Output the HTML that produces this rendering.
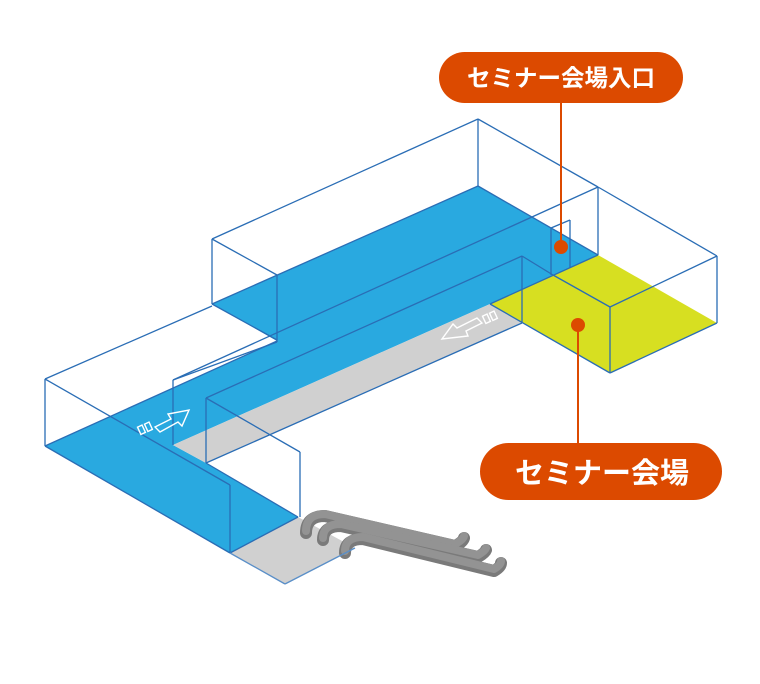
<!DOCTYPE html>
<html><head><meta charset="utf-8"><style>
html,body{margin:0;padding:0;background:#fff;}
svg{display:block;}
</style></head><body>
<svg width="760" height="684" viewBox="0 0 760 684" xmlns="http://www.w3.org/2000/svg">
<!-- fills -->
<polygon points="45,446 277,341 212,304 478,186 598,255 490,304 173,445 206,463 298,517 230,553" fill="#29a9e0"/>
<polygon points="173,445 490,304 522,323 206,463" fill="#d0d0d0"/>
<polygon points="230,553 285,584 355,548 298,517" fill="#d0d0d0"/>
<polygon points="490,304 553,275 598,255 717,323 610,373" fill="#d7df21"/>
<!-- escalator -->
<g fill="none" stroke="#7a7a7a" stroke-width="12" stroke-linecap="round" stroke-linejoin="round">
<path d="M306,533 Q306,516 325,516 L455,546 Q463,542 464,538"/>
<path d="M323,540 Q323,526 341,526 L478,557 Q485,553 486,550"/>
<path d="M345,553 Q345,539 363,539 L494,571 Q501,567 501,563"/>
</g>
<g fill="none" stroke="#939393" stroke-width="8" stroke-linecap="round" stroke-linejoin="round">
<path d="M306,531 Q306,514 325,514 L455,544 Q463,540 464,536"/>
<path d="M323,538 Q323,524 341,524 L478,555 Q485,551 486,548"/>
<path d="M345,551 Q345,537 363,537 L494,569 Q501,565 501,561"/>
</g>
<!-- lines -->
<g stroke="#2a6db5" stroke-width="1.3" fill="none">
<line x1="212" y1="239" x2="478" y2="119"/>
<line x1="478" y1="119" x2="598" y2="187"/>
<line x1="212" y1="239" x2="212" y2="304"/>
<line x1="212" y1="239" x2="277" y2="275"/>
<line x1="277" y1="275" x2="277" y2="342"/>
<line x1="478" y1="119" x2="478" y2="186"/>
<line x1="212" y1="304" x2="277" y2="340"/>
<line x1="277" y1="342" x2="173" y2="380"/>
<line x1="212" y1="304" x2="478" y2="186"/>
<line x1="478" y1="186" x2="598" y2="255"/>
<line x1="45" y1="379" x2="212" y2="306"/>
<line x1="45" y1="379" x2="45" y2="446"/>
<line x1="45" y1="379" x2="230" y2="485"/>
<line x1="230" y1="485" x2="230" y2="553"/>
<line x1="45" y1="446" x2="230" y2="553"/>
<line x1="230" y1="553" x2="298" y2="517"/>
<line x1="45" y1="446" x2="277" y2="341"/>
<line x1="173" y1="380" x2="173" y2="445"/>
<line x1="173" y1="380" x2="598" y2="187"/>
<line x1="206" y1="398" x2="522" y2="256"/>
<line x1="206" y1="398" x2="206" y2="463"/>
<line x1="206" y1="398" x2="300" y2="452"/>
<line x1="300" y1="452" x2="300" y2="517"/>
<line x1="206" y1="463" x2="522" y2="323"/>
<line x1="206" y1="463" x2="298" y2="517"/>
<line x1="522" y1="256" x2="522" y2="323"/>
<line x1="522" y1="256" x2="553" y2="275"/>
<line x1="553" y1="275" x2="610" y2="307"/>
<line x1="610" y1="307" x2="610" y2="373"/>
<line x1="610" y1="307" x2="717" y2="256"/>
<line x1="598" y1="187" x2="717" y2="256"/>
<line x1="717" y1="256" x2="717" y2="323"/>
<line x1="717" y1="323" x2="610" y2="373"/>
<line x1="610" y1="373" x2="490" y2="304"/>
<line x1="598" y1="187" x2="598" y2="255"/>
<line x1="598" y1="255" x2="490" y2="304"/>
<line x1="551" y1="228" x2="551" y2="275"/>
<line x1="551" y1="228" x2="570" y2="220"/>
<line x1="570" y1="220" x2="570" y2="268"/>
<line x1="230" y1="553" x2="285" y2="584" stroke="#5a8fc8"/>
<line x1="285" y1="584" x2="355" y2="548" stroke="#5a8fc8"/>
</g>
<!-- arrows -->
<g fill="none" stroke="#fff" stroke-width="1.4">
<path d="M155,427 L171,419 L168,414 L189,410 L182,426 L178,422 L160,432 Z"/>
<rect x="139" y="426" width="5" height="8" transform="rotate(-25 141 430)"/>
<rect x="146" y="423" width="5" height="8" transform="rotate(-25 148 427)"/>
<path d="M482,323 L466,331 L468,336 L442,339 L453,324 L457,328 L477,318 Z"/>
<rect x="484" y="315" width="5" height="8" transform="rotate(-25 486 319)"/>
<rect x="491" y="312" width="5" height="8" transform="rotate(-25 493 316)"/>
</g>
<!-- labels -->
<g fill="#dc4a00" stroke="#dc4a00">
<line x1="561" y1="102" x2="561" y2="246" stroke-width="2"/>
<circle cx="561" cy="247" r="7" stroke="none"/>
<line x1="578" y1="325" x2="578" y2="444" stroke-width="2"/>
<circle cx="578" cy="325" r="7" stroke="none"/>
<rect x="439" y="52" width="244" height="51" rx="25.5" stroke="none"/>
<rect x="480" y="443" width="242" height="57" rx="28.5" stroke="none"/>
</g>
<g fill="#fff" font-family="'Liberation Sans','Noto Sans CJK JP',sans-serif" font-weight="bold" text-anchor="middle">
<text x="561" y="86" font-size="23.5">セミナー会場入口</text>
<text x="602" y="483" font-size="29">セミナー会場</text>
</g>
</svg>
</body></html>
